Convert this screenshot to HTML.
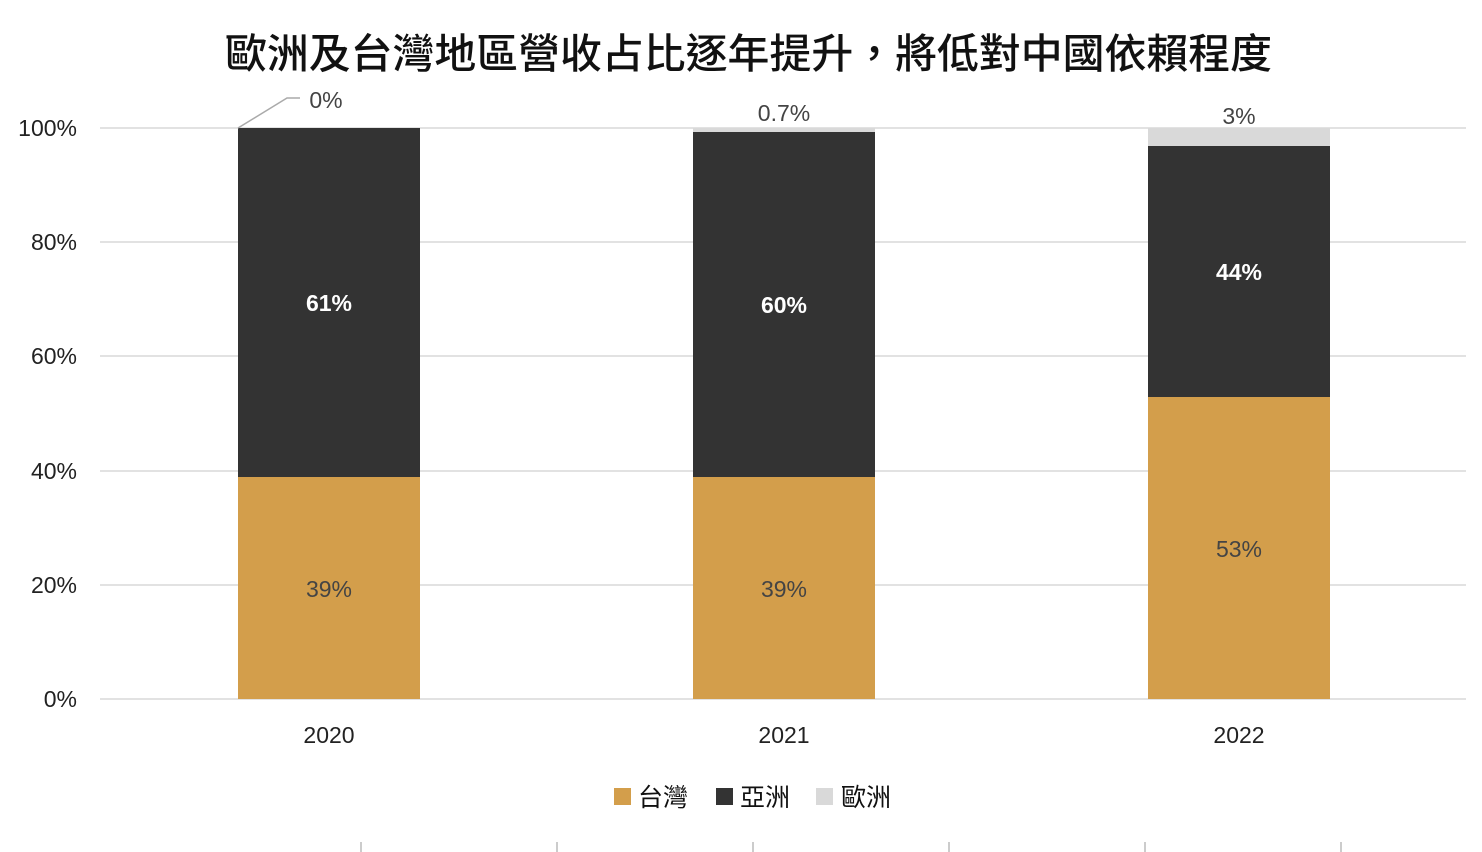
<!DOCTYPE html>
<html><head><meta charset="utf-8"><style>
html,body{margin:0;padding:0;background:#fff;}
svg{display:block;font-family:"Liberation Sans","Noto Sans CJK TC",sans-serif;}
</style></head><body>
<svg width="1482" height="852" viewBox="0 0 1482 852">
<text x="225" y="68" textLength="1047" lengthAdjust="spacingAndGlyphs" font-size="41" font-weight="500" fill="#111" font-family="'Noto Sans CJK TC',sans-serif">歐洲及台灣地區營收占比逐年提升，將低對中國依賴程度</text>
<g stroke="#d9d9d9" stroke-width="1.5">
<line x1="100" y1="128" x2="1466" y2="128"/>
<line x1="100" y1="242" x2="1466" y2="242"/>
<line x1="100" y1="356" x2="1466" y2="356"/>
<line x1="100" y1="471" x2="1466" y2="471"/>
<line x1="100" y1="585" x2="1466" y2="585"/>
<line x1="100" y1="699" x2="1466" y2="699"/>
</g>
<g font-size="23" fill="#222" text-anchor="end">
<text x="77" y="136">100%</text>
<text x="77" y="250">80%</text>
<text x="77" y="364">60%</text>
<text x="77" y="479">40%</text>
<text x="77" y="593">20%</text>
<text x="77" y="707">0%</text>
</g>
<rect x="238" y="477" width="182" height="222" fill="#d39e4b"/>
<rect x="238" y="128" width="182" height="349" fill="#333333"/>
<rect x="693" y="477" width="182" height="222" fill="#d39e4b"/>
<rect x="693" y="132" width="182" height="345" fill="#333333"/>
<rect x="693" y="128" width="182" height="4" fill="#d9d9d9"/>
<rect x="1148" y="397" width="182" height="302" fill="#d39e4b"/>
<rect x="1148" y="146" width="182" height="251" fill="#333333"/>
<rect x="1148" y="128" width="182" height="18" fill="#d9d9d9"/>
<polyline points="238,128 287,98 300,98" fill="none" stroke="#aaa" stroke-width="1.5"/>
<g font-size="23" text-anchor="middle">
<text x="326" y="108" fill="#444">0%</text>
<text x="784" y="121" fill="#444">0.7%</text>
<text x="1239" y="124" fill="#444">3%</text>
<text x="329" y="311" fill="#fff" font-weight="bold">61%</text>
<text x="784" y="313" fill="#fff" font-weight="bold">60%</text>
<text x="1239" y="280" fill="#fff" font-weight="bold">44%</text>
<text x="329" y="597" fill="#444">39%</text>
<text x="784" y="597" fill="#444">39%</text>
<text x="1239" y="557" fill="#444">53%</text>
<text x="329" y="743" fill="#222">2020</text>
<text x="784" y="743" fill="#222">2021</text>
<text x="1239" y="743" fill="#222">2022</text>
</g>
<g font-size="25" fill="#111">
<rect x="614" y="788" width="17" height="17" fill="#d39e4b"/>
<text x="638" y="806">台灣</text>
<rect x="716" y="788" width="17" height="17" fill="#333333"/>
<text x="740" y="806">亞洲</text>
<rect x="816" y="788" width="17" height="17" fill="#d9d9d9"/>
<text x="841" y="806">歐洲</text>
</g>
<g stroke="#ccc" stroke-width="2">
<line x1="361" y1="842" x2="361" y2="852"/>
<line x1="557" y1="842" x2="557" y2="852"/>
<line x1="753" y1="842" x2="753" y2="852"/>
<line x1="949" y1="842" x2="949" y2="852"/>
<line x1="1145" y1="842" x2="1145" y2="852"/>
<line x1="1341" y1="842" x2="1341" y2="852"/>
</g>
</svg>
</body></html>
